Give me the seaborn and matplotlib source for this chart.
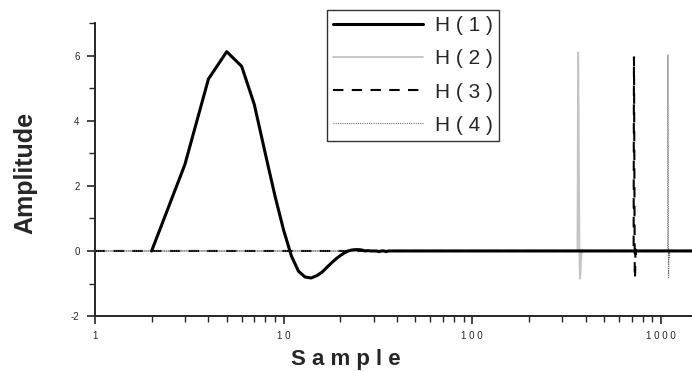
import numpy as np
import pandas as pd
import matplotlib
matplotlib.use("Agg")
import matplotlib.pyplot as plt
import matplotlib.ticker as mticker
import seaborn as sns

# Impulse responses, only the non-zero part is listed, rest of the samples are 0
n_samples = 1460

h1_samples = [2, 3, 4, 5, 6, 7, 8, 9, 10, 11, 12, 13, 14, 15, 16, 17, 18, 19, 20,
              21, 22, 23, 24, 25, 26, 28, 30, 32, 35, 40]
h1_values = [0, 2.65, 5.28, 6.12, 5.67, 4.5, 3.0, 1.7, 0.65, -0.15, -0.62, -0.8, -0.83,
             -0.76, -0.65, -0.5, -0.36, -0.24, -0.14, -0.06, 0.0, 0.03, 0.04, 0.04, 0.03,
             0.01, 0.0, -0.02, -0.02, 0.0]

h2_samples = [361, 362, 363, 364, 365, 366, 367, 368, 369, 370, 371, 372, 373, 374,
              375, 376, 378, 380, 382, 385]
h2_values = [0, 2.6, 5.25, 6.1, 5.65, 4.5, 3.0, 1.7, 0.65, -0.15, -0.6, -0.8, -0.85,
             -0.76, -0.65, -0.5, -0.24, -0.06, 0.04, 0.0]

h3_samples = [716, 717, 718, 719, 720, 721, 722, 723, 724, 725, 726, 727, 728, 729,
              730, 731, 733, 735, 737, 740]
h3_values = [0, 2.6, 5.1, 5.95, 5.5, 4.4, 2.9, 1.65, 0.6, -0.15, -0.6, -0.8, -0.85,
             -0.75, -0.65, -0.5, -0.24, -0.06, 0.04, 0.0]

h4_samples = [1085, 1086, 1087, 1088, 1089, 1090, 1091, 1092, 1093, 1094, 1095, 1096,
              1097, 1098, 1099, 1100, 1102, 1104, 1106, 1109]
h4_values = [0, 2.6, 5.2, 6.02, 5.6, 4.45, 2.95, 1.7, 0.62, -0.15, -0.6, -0.8, -0.85,
             -0.76, -0.65, -0.5, -0.24, -0.06, 0.04, 0.0]

labels = ["H ( 1 )", "H ( 2 )", "H ( 3 )", "H ( 4 )"]
x_tick_values = [1, 10, 100, 1000]
x_tick_labels = ["1", "1 0", "1 0 0", "1 0 0 0"]
y_tick_values = [-2, 0, 2, 4, 6]


def full_series(samples, values, start=1):
    x = np.arange(start, n_samples + 1)
    y = np.zeros(len(x))
    y[np.array(samples) - start] = values
    return pd.DataFrame({"Sample": x, "Amplitude": y})


sns.set_style("ticks")
plt.rcParams["font.family"] = ["Liberation Sans", "DejaVu Sans"]

fig = plt.figure(figsize=(6.92, 3.71), dpi=100)
ax = fig.add_axes([0.137, 0.148, 0.863, 0.79])

# H(1) goes on top so the baseline looks black past the first pulse
series = [
    (full_series(h1_samples, h1_values, start=2), dict(color="black", lw=2.2, ls="-", z=5)),
    (full_series(h2_samples, h2_values), dict(color="#c4c4c4", lw=1.3, ls="-", z=3)),
    (full_series(h3_samples, h3_values), dict(color="black", lw=1.5, ls=(0, (5, 4)), z=3)),
    (full_series(h4_samples, h4_values), dict(color="#707070", lw=0.8, ls=(0, (1, 1)), z=3)),
]
for (df, style), lab in zip(series, labels):
    sns.lineplot(data=df, x="Sample", y="Amplitude", ax=ax, label=lab,
                 color=style["color"], linewidth=style["lw"], linestyle=style["ls"],
                 zorder=style["z"])

ax.set_xscale("log")
ax.set_xlim(1, n_samples)
ax.set_ylim(-2, 7)
ax.xaxis.set_major_locator(mticker.FixedLocator(x_tick_values))
ax.xaxis.set_major_formatter(mticker.FixedFormatter(x_tick_labels))
ax.xaxis.set_minor_locator(mticker.LogLocator(base=10, subs=np.arange(2, 10)))
ax.xaxis.set_minor_formatter(mticker.NullFormatter())
ax.set_yticks(y_tick_values)
ax.set_yticklabels([str(v) for v in y_tick_values])
ax.yaxis.set_minor_locator(mticker.FixedLocator([-1, 1, 3, 5, 7]))

ax.tick_params(which="major", direction="out", length=6, width=1.2, labelsize=7, pad=5)
ax.tick_params(which="minor", direction="out", length=4, width=1.0)
for side in ["left", "bottom"]:
    ax.spines[side].set_linewidth(1.4)
sns.despine(ax=ax)

ax.set_xlabel("S a m p l e", fontsize=16, fontweight="bold")
ax.xaxis.set_label_coords(0.42, -0.113)
ax.set_ylabel("Amplitude", fontsize=18, fontweight="bold")
ax.yaxis.set_label_coords(-0.097, 0.49)

ax.get_legend().remove()
handles, leg_labels = ax.get_legend_handles_labels()
leg = fig.legend(handles, leg_labels, loc="upper left", bbox_to_anchor=(0.4725, 0.973),
                 fontsize=15, handlelength=4.3, handletextpad=0.6, labelspacing=0.68,
                 frameon=True, fancybox=False, edgecolor="black", borderpad=0.3,
                 borderaxespad=0)
leg.get_frame().set_linewidth(1.0)

fig.savefig("out.png", dpi=100)
